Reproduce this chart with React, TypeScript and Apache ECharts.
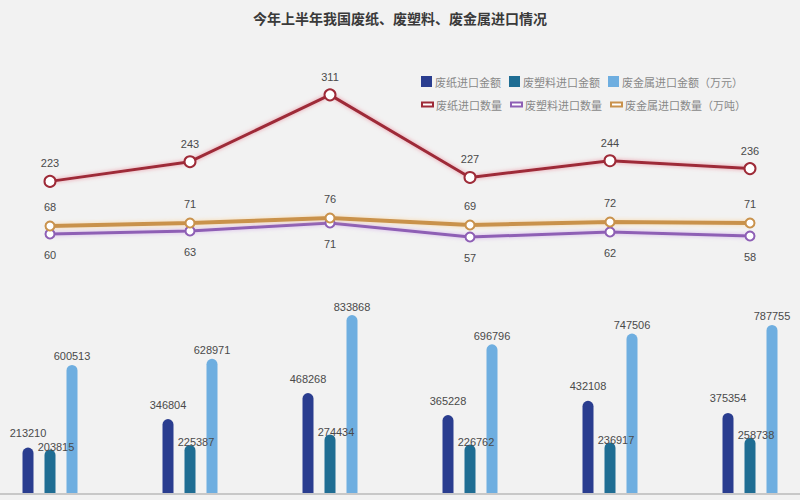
import React, { useEffect, useRef } from "react";
import * as echarts from "echarts";

const titleText = "今年上半年我国废纸、废塑料、废金属进口情况";
const categories = ["1月", "2月", "3月", "4月", "5月", "6月"];

const paperAmountName = "废纸进口金额";
const plasticAmountName = "废塑料进口金额";
const metalAmountName = "废金属进口金额（万元）";
const paperQtyName = "废纸进口数量";
const plasticQtyName = "废塑料进口数量";
const metalQtyName = "废金属进口数量（万吨）";

const paperAmount = [213210, 346804, 468268, 365228, 432108, 375354];
const plasticAmount = [203815, 225387, 274434, 226762, 236917, 258738];
const metalAmount = [600513, 628971, 833868, 696796, 747506, 787755];

const paperQty = [223, 243, 311, 227, 244, 236];
const plasticQty = [60, 63, 71, 57, 62, 58];
const metalQty = [68, 71, 76, 69, 72, 71];

const C_NAVY = "#2a3d8f";
const C_TEAL = "#1f6d93";
const C_LIGHT = "#6eaee0";
const C_RED = "#9e2b38";
const C_PURPLE = "#8e5fb5";
const C_GOLD = "#c9924c";

export default function App() {
  const ref = useRef<HTMLDivElement>(null);
  useEffect(() => {
    if (!ref.current) return;
    const chart = echarts.init(ref.current, null, { renderer: "svg" });
    const labelText = { fontSize: 11, color: "#4a4a4a", fontFamily: "Liberation Sans Narrow, Liberation Sans, sans-serif" };
    const barCommon = (name: string, data: number[], color: string, dist: number, offset: number[]) => ({
      name,
      type: "bar",
      xAxisIndex: 2,
      yAxisIndex: 2,
      data,
      barWidth: 11,
      barGap: "100%",
      clip: false,
      itemStyle: { color, borderRadius: [6, 6, 0, 0] },
      label: { show: true, position: "top", distance: dist, offset, ...labelText },
    });
    const lineCommon = (
      name: string,
      data: number[],
      color: string,
      idx: number,
      labelPos: string,
      dist: number,
      width: number,
      glow: string,
      size: number
    ) => ({
      name,
      type: "line",
      xAxisIndex: idx,
      yAxisIndex: idx,
      data,
      symbol: "circle",
      symbolSize: size,
      itemStyle: { color: "#ffffff", borderColor: color, borderWidth: 2 },
      lineStyle: { color, width, shadowColor: glow, shadowBlur: 4 },
      label: { show: true, position: labelPos, distance: dist, ...labelText },
      z: 3,
    });
    chart.setOption({
      animation: false,
      backgroundColor: "#f2f2f2",
      title: {
        text: titleText,
        left: "center",
        top: 6,
        textStyle: { fontSize: 14, fontWeight: "bold", color: "#3a3a3a", fontFamily: "Noto Sans CJK SC" },
      },
      legend: [
        {
          data: [paperAmountName, plasticAmountName, metalAmountName],
          left: 416,
          top: 71,
          icon: "rect",
          itemWidth: 11,
          itemHeight: 11,
          itemGap: 8,
          textStyle: { fontSize: 11, color: "#888", fontFamily: "Noto Sans CJK SC", padding: [0, 0, 0, -2] },
        },
        {
          data: [paperQtyName, plasticQtyName, metalQtyName],
          left: 416,
          top: 94,
          icon: "rect",
          itemWidth: 11,
          itemHeight: 4,
          itemGap: 8,
          textStyle: { fontSize: 11, color: "#888", fontFamily: "Noto Sans CJK SC", padding: [0, 0, 0, -2] },
        },
      ],
      grid: [
        { left: 50, right: 50, top: 86, height: 118 },
        { left: 50, right: 50, top: 194, height: 100 },
        { left: 50, right: 50, top: 301, height: 192 },
      ],
      xAxis: [0, 1, 2].map((i) => ({
        type: "category",
        gridIndex: i,
        data: categories,
        boundaryGap: false,
        show: false,
      })),
      yAxis: [
        { type: "value", gridIndex: 0, min: 200, max: 320, show: false, splitLine: { show: false } },
        { type: "value", gridIndex: 1, min: 0, max: 100, show: false, splitLine: { show: false } },
        { type: "value", gridIndex: 2, min: 0, max: 900000, show: false, splitLine: { show: false } },
      ],
      graphic: [
        {
          type: "line",
          shape: { x1: 0, y1: 494, x2: 800, y2: 494 },
          style: { stroke: "#c8c8c8", lineWidth: 2 },
          z: 10,
        },
      ],
      series: [
        barCommon(paperAmountName, paperAmount, C_NAVY, 9, [0, 0]),
        barCommon(plasticAmountName, plasticAmount, C_TEAL, -3, [6, 0]),
        barCommon(metalAmountName, metalAmount, C_LIGHT, 3, [0, 0]),
        lineCommon(paperQtyName, paperQty, C_RED, 0, "top", 6, 3, "rgba(230,110,130,0.7)", 11),
        lineCommon(plasticQtyName, plasticQty, C_PURPLE, 1, "bottom", 10, 3, "rgba(200,150,230,0.7)", 9),
        lineCommon(metalQtyName, metalQty, C_GOLD, 1, "top", 8, 4, "rgba(250,210,150,0.8)", 9),
      ],
    });
    return () => chart.dispose();
  }, []);
  return (
    <div
      ref={ref}
      style={{ position: "fixed", left: 0, top: 0, width: 800, height: 500 }}
    />
  );
}
